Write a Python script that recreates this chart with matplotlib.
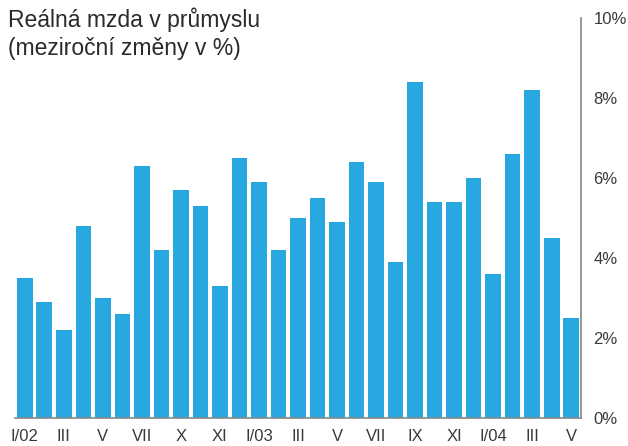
import matplotlib
matplotlib.use("Agg")
import matplotlib.pyplot as plt

values = [3.5, 2.9, 2.2, 4.8, 3.0, 2.6, 6.3, 4.2, 5.7, 5.3, 3.3, 6.5,
          5.9, 4.2, 5.0, 5.5, 4.9, 6.4, 5.9, 3.9, 8.4, 5.4, 5.4, 6.0,
          3.6, 6.6, 8.2, 4.5, 2.5]
tick_labels = ["I/02", "III", "V", "VII", "X", "XI", "I/03", "III", "V", "VII",
               "IX", "XI", "I/04", "III", "V"]
y_ticks = [0, 2, 4, 6, 8, 10]
title_lines = ["Reálná mzda v průmyslu", "(meziroční změny v %)"]

plt.rcParams['font.family'] = ['Liberation Sans', 'DejaVu Sans']

fig = plt.figure(figsize=(6.28, 4.46), dpi=100)
ax = fig.add_axes([15/628, 1 - 418/446, (581-15)/628, 400/446])

x = list(range(len(values)))
ax.bar(x, values, width=0.8, color='#27A8E0', edgecolor='none')
ax.set_xlim(-0.5, len(values) - 0.5)
ax.set_ylim(0, 10)

ax.yaxis.tick_right()
ax.set_yticks(y_ticks)
ax.set_yticklabels([f"{v}%" for v in y_ticks])
ax.set_xticks(x[::2])
ax.set_xticklabels(tick_labels)
ax.tick_params(axis='both', length=0, labelsize=12, colors='#3a3a3a')
ax.tick_params(axis='y', pad=9)
ax.tick_params(axis='x', pad=8)

for s in ['top', 'left']:
    ax.spines[s].set_visible(False)
for s in ['right', 'bottom']:
    ax.spines[s].set_color('#888888')
    ax.spines[s].set_linewidth(1.2)

fig.text(8/628, 1 - 27/446, title_lines[0], ha='left', va='baseline',
         fontsize=16.5, color='#2a2a2a')
fig.text(8/628, 1 - 55/446, title_lines[1], ha='left', va='baseline',
         fontsize=16.5, color='#2a2a2a')

fig.savefig("out.png", dpi=100)
